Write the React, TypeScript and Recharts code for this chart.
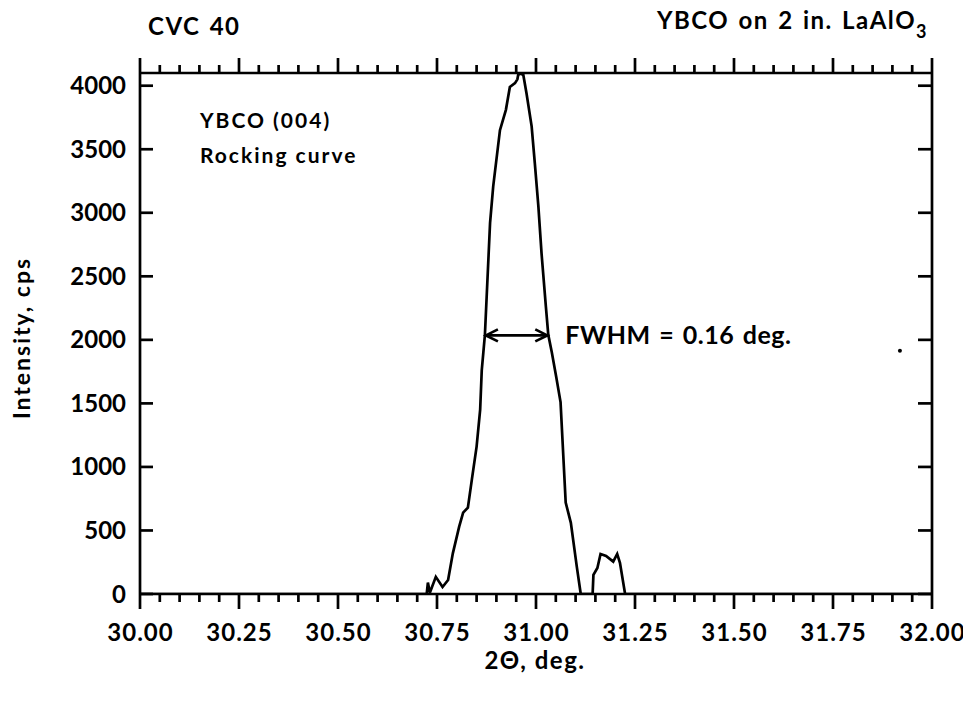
import { LineChart, Line, XAxis, YAxis, ReferenceLine, ReferenceDot } from 'recharts';

// rocking curve
const twoTheta = [
	30.0, 30.724, 30.727, 30.732, 30.747, 30.764, 30.778, 30.79, 30.806, 30.816, 30.828, 30.838, 30.85,
	30.859, 30.863, 30.867, 30.871, 30.884, 30.892, 30.909, 30.924, 30.934, 30.947, 30.953, 30.955, 30.961,
	30.968, 30.976, 30.989, 30.997, 31.006, 31.014, 31.025, 31.031, 31.04, 31.051, 31.062, 31.075, 31.088,
	31.103, 31.113, 31.143, 31.145, 31.155, 31.163, 31.177, 31.195, 31.205, 31.212, 31.225, 32.0,
];
const intensity = [
	0, 0, 90, 10, 135, 55, 110, 320, 530, 640, 680, 900, 1160, 1450, 1760, 1900, 2040, 2920, 3210, 3650, 3810,
	3990, 4020, 4050, 4085, 4095, 4085, 3940, 3680, 3390, 3050, 2680, 2260, 2040, 1900, 1710, 1510, 720, 560,
	215, 0, 0, 150, 205, 315, 300, 255, 315, 245, 0, 0,
];

const xMajorTicks = [30.0, 30.25, 30.5, 30.75, 31.0, 31.25, 31.5, 31.75, 32.0];
const yTicks = [0, 500, 1000, 1500, 2000, 2500, 3000, 3500, 4000];
const fwhm = { from: 30.871, to: 31.031, level: 2035, text: 'FWHM = 0.16 deg.' };
const strayDot = { x: 31.919, y: 1915 };

const data = twoTheta.map((x, i) => ({ x, y: intensity[i] }));
const xTicks = Array.from({ length: 41 }, (_, i) => Math.round((30 + i * 0.05) * 100) / 100);
const isMajor = (v: number) => xMajorTicks.some(m => Math.abs(m - v) < 1e-6);

const FONT = 'Lato, "Liberation Sans", sans-serif';
const W = 2.7;

const BottomTick = (props: any) => {
	const { x, y, payload } = props;
	const major = isMajor(payload.value);
	return (
		<g>
			<line x1={x} y1={y} x2={x} y2={y + (major ? 15 : 8)} stroke='#000' strokeWidth={W} />
			{major && (
				<text
					x={x + 0.5}
					y={y + 47}
					textAnchor='middle'
					fontFamily={FONT}
					fontWeight={700}
					fontSize={24}
					letterSpacing={1}
					fill='#000'
				>
					{payload.value.toFixed(2)}
				</text>
			)}
		</g>
	);
};

const TopTick = (props: any) => {
	const { x, y, payload } = props;
	const major = isMajor(payload.value);
	return <line x1={x} y1={y} x2={x} y2={y - (major ? 15 : 8)} stroke='#000' strokeWidth={W} />;
};

const LeftTick = (props: any) => {
	const { x, y, payload } = props;
	return (
		<g>
			<line x1={x} y1={y} x2={x + 13} y2={y} stroke='#000' strokeWidth={W} />
			<text x={x - 14} y={y + 8.5} textAnchor='end' fontFamily={FONT} fontWeight={700} fontSize={24} fill='#000'>
				{payload.value}
			</text>
		</g>
	);
};

const RightTick = (props: any) => {
	const { x, y } = props;
	return <line x1={x} y1={y} x2={x - 14} y2={y} stroke='#000' strokeWidth={W} />;
};

const FwhmArrow = (props: any) => {
	const { x1, y1, x2 } = props;
	return (
		<g stroke='#000' strokeWidth={W} fill='none'>
			<line x1={x1} y1={y1} x2={x2} y2={y1} />
			<polyline points={`${x1 + 13},${y1 - 6} ${x1 + 1},${y1} ${x1 + 13},${y1 + 6}`} />
			<polyline points={`${x2 - 13},${y1 - 6} ${x2 - 1},${y1} ${x2 - 13},${y1 + 6}`} />
			<text
				x={x2 + 17}
				y={y1 + 9}
				stroke='none'
				fill='#000'
				fontFamily={FONT}
				fontWeight={700}
				fontSize={25}
				letterSpacing={0.5}
				wordSpacing={2}
			>
				{fwhm.text}
			</text>
		</g>
	);
};

const txt = { fontFamily: FONT, fontWeight: 700, fill: '#000' } as const;

export default function App() {
	return (
		<div style={{ position: 'absolute', left: 0, top: 0, width: 963, height: 705, background: '#fff' }}>
			<LineChart width={963} height={705} data={data} margin={{ top: 53, right: 11, bottom: 51, left: 60 }}>
				<XAxis
					xAxisId='bottom'
					dataKey='x'
					type='number'
					domain={[30, 32]}
					ticks={xTicks}
					interval={0}
					height={60}
					tickSize={0}
					tickMargin={0}
					tickLine={false}
					tick={BottomTick}
					axisLine={{ stroke: '#000', strokeWidth: W }}
					allowDataOverflow
				/>
				<XAxis
					xAxisId='top'
					orientation='top'
					dataKey='x'
					type='number'
					domain={[30, 32]}
					ticks={xTicks}
					interval={0}
					height={20}
					tickSize={0}
					tickMargin={0}
					tickLine={false}
					tick={TopTick}
					axisLine={{ stroke: '#000', strokeWidth: W }}
					allowDataOverflow
				/>
				<YAxis
					yAxisId='left'
					type='number'
					domain={[0, 4100]}
					ticks={yTicks}
					interval={0}
					width={80}
					tickSize={0}
					tickMargin={0}
					tickLine={false}
					tick={LeftTick}
					axisLine={{ stroke: '#000', strokeWidth: W }}
					allowDataOverflow
				/>
				<YAxis
					yAxisId='right'
					orientation='right'
					type='number'
					domain={[0, 4100]}
					ticks={yTicks}
					interval={0}
					width={20}
					tickSize={0}
					tickMargin={0}
					tickLine={false}
					tick={RightTick}
					axisLine={{ stroke: '#000', strokeWidth: W }}
					allowDataOverflow
				/>
				<Line
					xAxisId='bottom'
					yAxisId='left'
					type='linear'
					dataKey='y'
					stroke='#000'
					strokeWidth={W}
					dot={false}
					isAnimationActive={false}
				/>
				<ReferenceLine
					xAxisId='bottom'
					yAxisId='left'
					segment={[
						{ x: fwhm.from, y: fwhm.level },
						{ x: fwhm.to, y: fwhm.level },
					]}
					shape={FwhmArrow}
				/>
				<ReferenceDot xAxisId='bottom' yAxisId='left' x={strayDot.x} y={strayDot.y} r={2} fill='#000' stroke='none' />
			</LineChart>
			<svg
				width={963}
				height={705}
				style={{ position: 'absolute', left: 0, top: 0, pointerEvents: 'none' }}
			>
				<text x={148} y={35} fontSize={24} letterSpacing={1.5} wordSpacing={2} {...txt}>
					CVC 40
				</text>
				<text x={928} y={29} fontSize={24} letterSpacing={1.5} wordSpacing={2} textAnchor='end' {...txt}>
					YBCO on 2 in. LaAlO
					<tspan fontSize={18} dy={9}>
						3
					</tspan>
				</text>
				<text x={200} y={128} fontSize={21} letterSpacing={2} {...txt}>
					YBCO (004)
				</text>
				<text x={200} y={163} fontSize={21} letterSpacing={2} {...txt}>
					Rocking curve
				</text>
				<text x={535} y={669} fontSize={24} letterSpacing={1.5} textAnchor='middle' {...txt}>
					2Θ, deg.
				</text>
				<text
					x={0}
					y={0}
					fontSize={23}
					letterSpacing={2}
					textAnchor='middle'
					transform='translate(30 338) rotate(-90)'
					{...txt}
				>
					Intensity, cps
				</text>
			</svg>
		</div>
	);
}
